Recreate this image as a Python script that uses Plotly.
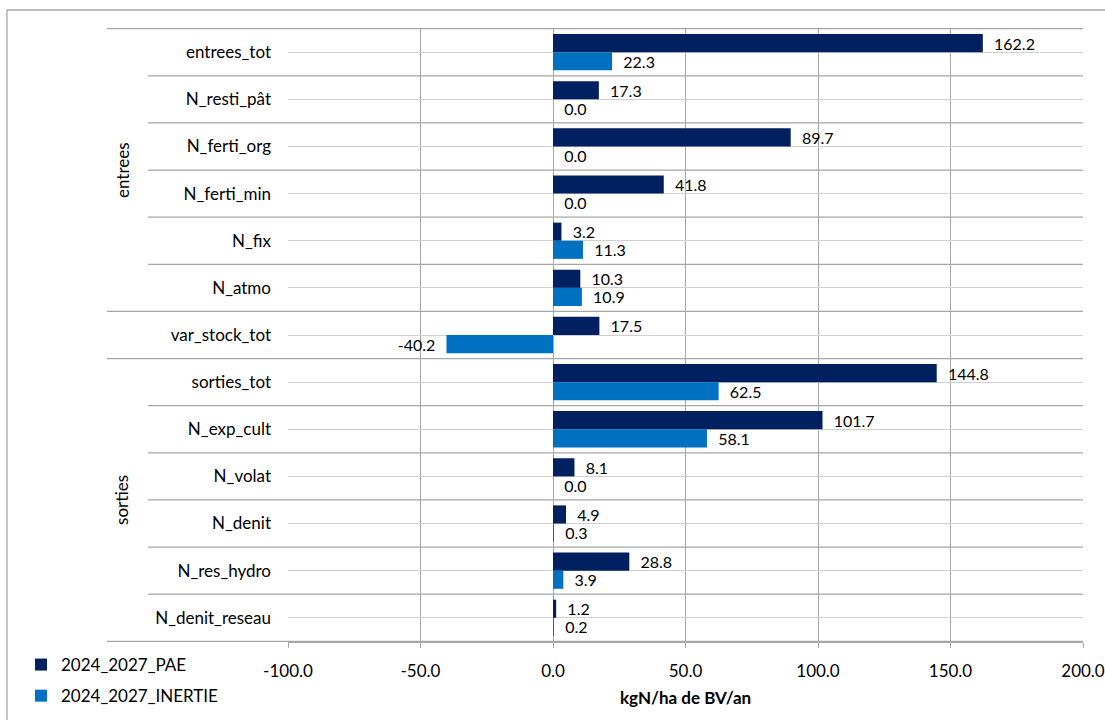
import plotly.graph_objects as go

categories = ["entrees_tot", "N_resti_pât", "N_ferti_org", "N_ferti_min", "N_fix", "N_atmo",
              "var_stock_tot", "sorties_tot", "N_exp_cult", "N_volat", "N_denit",
              "N_res_hydro", "N_denit_reseau"]
pae = [162.2, 17.3, 89.7, 41.8, 3.2, 10.3, 17.5, 144.8, 101.7, 8.1, 4.9, 28.8, 1.2]
inertie = [22.3, 0.0, 0.0, 0.0, 11.3, 10.9, -40.2, 62.5, 58.1, 0.0, 0.3, 3.9, 0.2]
series_names = ["2024_2027_PAE", "2024_2027_INERTIE"]
x_ticks = [-100, -50, 0, 50, 100, 150, 200]
groups = [("entrees", 0, 5), ("sorties", 7, 12)]
x_title = "kgN/ha de BV/an"

FONT = "Lato, Carlito, 'Open Sans', sans-serif"
FS = 17
NB = "\u00a0"


def labels(vals):
    out = []
    for v in vals:
        s = f"{v:.1f}"
        out.append(s + NB * 2 if v < 0 else NB * 2 + s)
    return out


W, H = 1105, 720
PL, PR, PT, PB = 288, 1083, 28, 642  # plot area in page pixels
L, R, T, B = PL, W - PR, PT, H - PB
pw, ph = PR - PL, PB - PT


def px_x(p):
    return (p - PL) / pw


def px_y(p):
    return (PB - p) / ph


fig = go.Figure()
colors = ["#002060", "#0070C0"]
for i, (name, vals) in enumerate(zip(series_names, [pae, inertie])):
    fig.add_trace(go.Bar(
        y=categories, x=vals, orientation="h", name=name,
        marker=dict(color=colors[i], line=dict(width=0)),
        text=labels(vals), textposition="outside", constraintext="none",
        cliponaxis=False,
        textfont=dict(family=FONT, size=16, color="#000000"),
        legendgroup=name, showlegend=True,
    ))

shapes = []
n = len(categories)
group_bounds = {-0.5, 5.5, 6.5, 12.5}
for k in range(n + 1):
    yb = k - 0.5
    x0 = px_x(107) if yb in group_bounds else px_x(148)
    shapes.append(dict(type="line", xref="paper", yref="y", x0=x0, x1=1, y0=yb, y1=yb,
                       line=dict(color="#A6A6A6", width=1.3), layer="below"))
# outer border
shapes.append(dict(type="rect", xref="paper", yref="paper",
                   x0=px_x(7), x1=1.2, y0=-0.3, y1=px_y(10),
                   line=dict(color="#A6A6A6", width=1.3), fillcolor="rgba(0,0,0,0)"))

annotations = []
for gname, a, b in groups:
    annotations.append(dict(text=gname, xref="paper", yref="y", x=px_x(122), y=(a + b) / 2,
                            xanchor="center", yanchor="middle",
                            textangle=-90, showarrow=False,
                            font=dict(family=FONT, size=FS, color="#000000")))
annotations.append(dict(text=f"<b>{x_title}</b>", xref="paper", yref="paper",
                        x=0.5, y=px_y(697), xanchor="center", yanchor="middle",
                        showarrow=False, font=dict(family=FONT, size=FS, color="#000000")))

fig.update_layout(
    width=W, height=H,
    margin=dict(l=L, r=R, t=T, b=B, pad=0, autoexpand=False),
    paper_bgcolor="white", plot_bgcolor="white",
    barmode="group", bargap=0.23, bargroupgap=0,
    font=dict(family=FONT, size=FS, color="#000000"),
    shapes=shapes, annotations=annotations,
    showlegend=True,
    xaxis=dict(range=[-100, 200], tickvals=x_ticks, ticktext=[f"{v:.1f}" for v in x_ticks],
               showgrid=True, gridcolor="#A6A6A6", gridwidth=1.3, zeroline=False,
               ticks="outside", ticklen=5, tickcolor="#A6A6A6", ticklabelstandoff=8,
               showline=True, linecolor="#A6A6A6", linewidth=1.3, automargin=False,
               tickfont=dict(family=FONT, size=FS)),
    yaxis=dict(autorange="reversed", showgrid=True, gridcolor="#D0D0D0", gridwidth=1.3,
               ticks="", ticklabelstandoff=16, showline=False, zeroline=False,
               automargin=False, tickfont=dict(family=FONT, size=FS)),
    legend=dict(x=px_x(21), y=px_y(647), xanchor="left", yanchor="top",
                orientation="v", traceorder="grouped", tracegroupgap=6,
                font=dict(family=FONT, size=FS), bgcolor="rgba(0,0,0,0)", itemwidth=30),
)

fig.write_html("out.html",
               config={"displayModeBar": False},
               post_script="document.body.style.margin='0px';document.body.style.overflow='hidden';")
